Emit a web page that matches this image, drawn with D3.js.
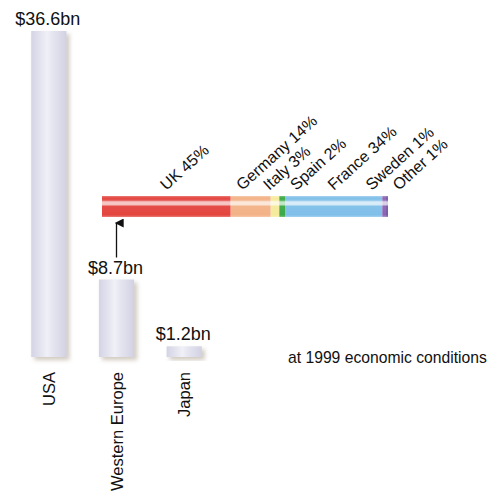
<!DOCTYPE html>
<html>
<head>
<meta charset="utf-8">
<script src="https://cdn.jsdelivr.net/npm/d3@7"></script>
<style>
  body { margin: 0; background: #fff; }
  svg { font-family: "Liberation Sans", Arial, sans-serif; fill: #111; }
</style>
</head>
<body>
<svg id="chart" width="489" height="495"></svg>
<script>
// spend by region ($bn)
var regions = ['USA', 'Western Europe', 'Japan'];
var spend = [36.6, 8.7, 1.2];
var spendLabels = ['$36.6bn', '$8.7bn', '$1.2bn'];

// Western Europe split (%)
var countries = ['UK', 'Germany', 'Italy', 'Spain', 'France', 'Sweden', 'Other'];
var shares = [45, 14, 3, 2, 34, 1, 1];
var countryColors = ['#e3443e', '#f3b287', '#f5ea9c', '#3aa946', '#7fbfe9', '#8c62b2', '#7a58a8'];

var note = 'at 1999 economic conditions';

var svg = d3.select('#chart');
var defs = svg.append('defs');

// cylinder look for the grey bars
var grad = defs.append('linearGradient').attr('id', 'cyl')
    .attr('x1', 0).attr('x2', 1).attr('y1', 0).attr('y2', 0);
grad.append('stop').attr('offset', '0%').attr('stop-color', '#d3d3e5');
grad.append('stop').attr('offset', '45%').attr('stop-color', '#f0f0f7');
grad.append('stop').attr('offset', '60%').attr('stop-color', '#e6e6f1');
grad.append('stop').attr('offset', '100%').attr('stop-color', '#d1d1e3');

var shine = defs.append('linearGradient').attr('id', 'shine')
    .attr('x1', 0).attr('x2', 0).attr('y1', 0).attr('y2', 1);
shine.append('stop').attr('offset', '0%').attr('stop-color', '#fff').attr('stop-opacity', 0.3);
shine.append('stop').attr('offset', '10%').attr('stop-color', '#fff').attr('stop-opacity', 0);
shine.append('stop').attr('offset', '20%').attr('stop-color', '#fff').attr('stop-opacity', 0.1);
shine.append('stop').attr('offset', '28%').attr('stop-color', '#fff').attr('stop-opacity', 0.7);
shine.append('stop').attr('offset', '40%').attr('stop-color', '#fff').attr('stop-opacity', 0.7);
shine.append('stop').attr('offset', '50%').attr('stop-color', '#fff').attr('stop-opacity', 0.05);
shine.append('stop').attr('offset', '90%').attr('stop-color', '#fff').attr('stop-opacity', 0);
shine.append('stop').attr('offset', '100%').attr('stop-color', '#fff').attr('stop-opacity', 0.3);

var shadow = defs.append('filter').attr('id', 'shadow')
    .attr('x', '-20%').attr('y', '-20%').attr('width', '150%').attr('height', '150%');
shadow.append('feDropShadow').attr('dx', 3).attr('dy', 3).attr('stdDeviation', 2)
    .attr('flood-color', '#988a74').attr('flood-opacity', 0.45);

var soft = defs.append('filter').attr('id', 'soft')
    .attr('x', '-5%').attr('y', '-30%').attr('width', '110%').attr('height', '160%');
soft.append('feGaussianBlur').attr('stdDeviation', 0.7);

defs.append('marker').attr('id', 'arrow')
    .attr('viewBox', '0 0 10 10').attr('refX', 5).attr('refY', 2)
    .attr('markerWidth', 9).attr('markerHeight', 11).attr('markerUnits', 'userSpaceOnUse')
    .attr('orient', 'auto-start-reverse')
  .append('path').attr('d', 'M0,10 L5,0 L10,10 Z').attr('fill', '#111');

// scales
var x = d3.scaleBand().domain(regions).range([15, 218])
    .paddingInner(0.48).paddingOuter(0.24);
var y = d3.scaleLinear().domain([0, d3.max(spend)]).range([357, 31]);

var bars = svg.selectAll('.bar').data(regions).enter().append('g');

bars.append('rect')
    .attr('x', function(d) { return x(d); })
    .attr('y', function(d, i) { return y(spend[i]); })
    .attr('width', x.bandwidth())
    .attr('height', function(d, i) { return y(0) - y(spend[i]); })
    .attr('fill', 'url(#cyl)')
    .attr('filter', 'url(#shadow)');

bars.append('text')
    .attr('x', function(d) { return x(d) + x.bandwidth() / 2 - 1; })
    .attr('y', function(d, i) { return y(spend[i]) - 6; })
    .attr('text-anchor', 'middle')
    .style('font-size', '18px')
    .text(function(d, i) { return spendLabels[i]; });

bars.append('text')
    .attr('transform', function(d) {
        return 'translate(' + (x(d) + x.bandwidth() / 2 + 6) + ',' + (y(0) + 15) + ') rotate(-90)';
    })
    .attr('text-anchor', 'end')
    .style('font-size', '16.5px')
    .text(function(d) { return d; });

// stacked share bar for Western Europe
var sx = d3.scaleLinear().domain([0, 100]).range([102, 388]);
var stackTop = 196, stackH = 21;
var cum = d3.cumsum(shares);
var starts = shares.map(function(s, i) { return cum[i] - s; });

var stack = svg.append('g').attr('filter', 'url(#soft)');
stack.selectAll('rect.seg').data(countries).enter().append('rect')
    .attr('class', 'seg')
    .attr('x', function(d, i) { return sx(starts[i]); })
    .attr('y', stackTop)
    .attr('width', function(d, i) { return sx(cum[i]) - sx(starts[i]); })
    .attr('height', stackH)
    .attr('fill', function(d, i) { return countryColors[i]; });
stack.append('rect')
    .attr('x', sx(0)).attr('y', stackTop)
    .attr('width', sx(100) - sx(0)).attr('height', stackH)
    .attr('fill', 'url(#shine)');

// label anchors: segment centres, spread apart so they don't collide
var pos = shares.map(function(s, i) { return sx(starts[i] + s / 2); });
var minGap = 27;
for (var k = 0; k < 200; k++) {
    for (var i = 1; i < pos.length; i++) {
        var gap = pos[i] - pos[i - 1];
        if (gap < minGap) {
            var push = (minGap - gap) / 2;
            pos[i - 1] -= push;
            pos[i] += push;
        }
    }
}

svg.selectAll('text.share').data(countries).enter().append('text')
    .attr('class', 'share')
    .attr('transform', function(d, i) {
        return 'translate(' + pos[i] + ',' + (stackTop - 5) + ') rotate(-42)';
    })
    .style('font-size', '16px')
    .text(function(d, i) { return d + ' ' + shares[i] + '%'; });

// arrow from Western Europe bar up to the split
var weX = x('Western Europe') + x.bandwidth() / 2;
svg.append('line')
    .attr('x1', weX).attr('x2', weX)
    .attr('y1', y(spend[1]) - 22).attr('y2', stackTop + stackH + 6)
    .attr('stroke', '#111').attr('stroke-width', 1.3)
    .attr('marker-end', 'url(#arrow)');

svg.append('text')
    .attr('x', 288).attr('y', 363)
    .style('font-size', '15.7px')
    .text(note);
</script>
</body>
</html>
